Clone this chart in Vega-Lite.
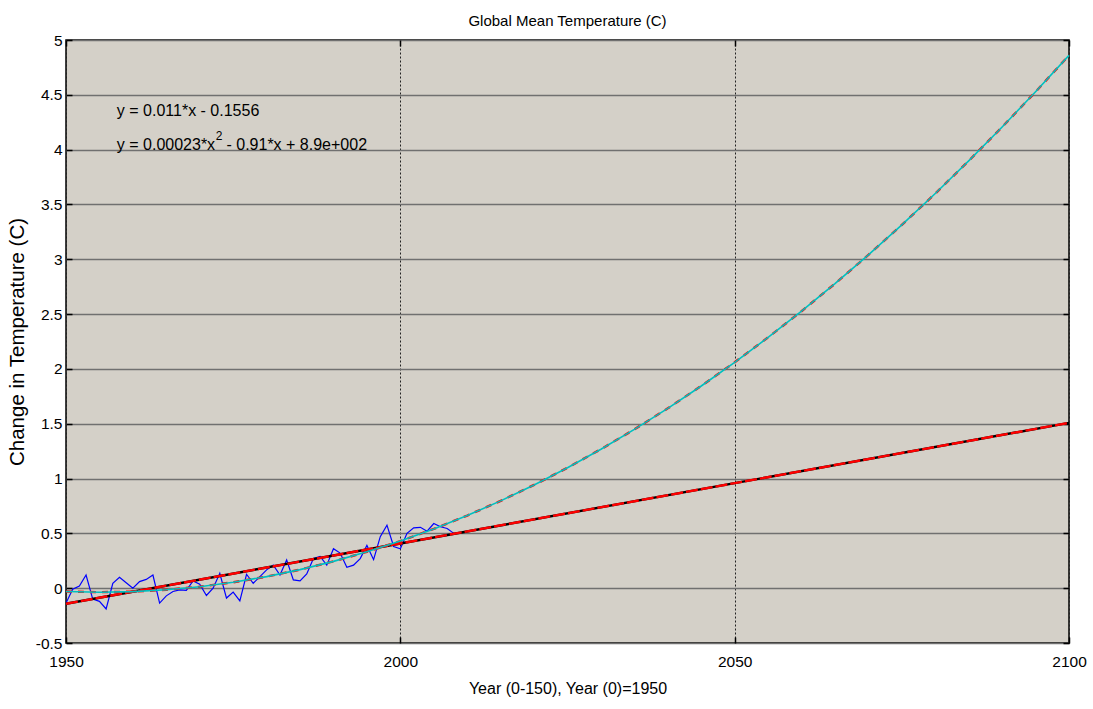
{
  "$schema": "https://vega.github.io/schema/vega-lite/v6.json",
  "width": 1003,
  "height": 603,
  "autosize": {"type": "none"},
  "padding": {"left": 66, "top": 40, "right": 24, "bottom": 66},
  "background": "white",
  "title": {"text": "Global Mean Temperature (C)", "font": "Liberation Sans", "fontSize": 15, "fontWeight": "normal", "color": "black", "offset": 4},
  "config": {
    "view": {"fill": "#d4d0c8", "stroke": "black", "strokeWidth": 1.5},
    "axis": {
      "labelFont": "Liberation Sans", "labelFontSize": 15.5, "labelColor": "black", "labelFlush": false,
      "titleFont": "Liberation Sans", "titleFontSize": 16, "titleFontWeight": "normal", "titleColor": "black",
      "domain": false, "tickColor": "black", "tickSize": -6, "tickWidth": 1.5
    }
  },
  "datasets": {
    "obs": [
      {"year": 1950, "temp": -0.136}, {"year": 1951, "temp": -0.01}, {"year": 1952, "temp": 0.02}, {"year": 1953, "temp": 0.12},
      {"year": 1954, "temp": -0.10}, {"year": 1955, "temp": -0.12}, {"year": 1956, "temp": -0.19}, {"year": 1957, "temp": 0.045},
      {"year": 1958, "temp": 0.10}, {"year": 1959, "temp": 0.05}, {"year": 1960, "temp": 0.0}, {"year": 1961, "temp": 0.06},
      {"year": 1962, "temp": 0.08}, {"year": 1963, "temp": 0.12}, {"year": 1964, "temp": -0.136}, {"year": 1965, "temp": -0.07},
      {"year": 1966, "temp": -0.03}, {"year": 1967, "temp": -0.015}, {"year": 1968, "temp": -0.02}, {"year": 1969, "temp": 0.066},
      {"year": 1970, "temp": 0.036}, {"year": 1971, "temp": -0.067}, {"year": 1972, "temp": 0.0}, {"year": 1973, "temp": 0.136},
      {"year": 1974, "temp": -0.09}, {"year": 1975, "temp": -0.036}, {"year": 1976, "temp": -0.115}, {"year": 1977, "temp": 0.127},
      {"year": 1978, "temp": 0.045}, {"year": 1979, "temp": 0.106}, {"year": 1980, "temp": 0.167}, {"year": 1981, "temp": 0.21},
      {"year": 1982, "temp": 0.12}, {"year": 1983, "temp": 0.257}, {"year": 1984, "temp": 0.076}, {"year": 1985, "temp": 0.066},
      {"year": 1986, "temp": 0.13}, {"year": 1987, "temp": 0.27}, {"year": 1988, "temp": 0.29}, {"year": 1989, "temp": 0.21},
      {"year": 1990, "temp": 0.36}, {"year": 1991, "temp": 0.32}, {"year": 1992, "temp": 0.19}, {"year": 1993, "temp": 0.21},
      {"year": 1994, "temp": 0.27}, {"year": 1995, "temp": 0.39}, {"year": 1996, "temp": 0.26}, {"year": 1997, "temp": 0.47},
      {"year": 1998, "temp": 0.575}, {"year": 1999, "temp": 0.38}, {"year": 2000, "temp": 0.36}, {"year": 2001, "temp": 0.50},
      {"year": 2002, "temp": 0.55}, {"year": 2003, "temp": 0.555}, {"year": 2004, "temp": 0.52}, {"year": 2005, "temp": 0.59},
      {"year": 2006, "temp": 0.56}, {"year": 2007, "temp": 0.545}, {"year": 2008, "temp": 0.50}
    ],
    "linear": [
      {"year": 1950, "temp": -0.142}, {"year": 2000, "temp": 0.408}, {"year": 2050, "temp": 0.958}, {"year": 2100, "temp": 1.508}
    ],
    "quad": [
      {"year": 1950, "temp": -0.03}, {"year": 1955, "temp": -0.0367}, {"year": 1960, "temp": -0.0316}, {"year": 1965, "temp": -0.0149},
      {"year": 1970, "temp": 0.0136}, {"year": 1975, "temp": 0.0538}, {"year": 1980, "temp": 0.1056}, {"year": 1985, "temp": 0.1692},
      {"year": 1990, "temp": 0.2444}, {"year": 1995, "temp": 0.3314}, {"year": 2000, "temp": 0.43}, {"year": 2005, "temp": 0.5404},
      {"year": 2010, "temp": 0.6624}, {"year": 2015, "temp": 0.7962}, {"year": 2020, "temp": 0.9416}, {"year": 2025, "temp": 1.0988},
      {"year": 2030, "temp": 1.2676}, {"year": 2035, "temp": 1.4482}, {"year": 2040, "temp": 1.6404}, {"year": 2045, "temp": 1.8444},
      {"year": 2050, "temp": 2.06}, {"year": 2055, "temp": 2.2874}, {"year": 2060, "temp": 2.5264}, {"year": 2065, "temp": 2.7772},
      {"year": 2070, "temp": 3.0396}, {"year": 2075, "temp": 3.3138}, {"year": 2080, "temp": 3.5996}, {"year": 2085, "temp": 3.8972},
      {"year": 2090, "temp": 4.2064}, {"year": 2095, "temp": 4.5274}, {"year": 2100, "temp": 4.86}
    ]
  },
  "resolve": {"axis": {"x": "independent", "y": "independent"}},
  "layer": [
    {
      "data": {"name": "obs"},
      "mark": {"type": "line", "color": "#0000ff", "strokeWidth": 1.2, "clip": true},
      "encoding": {
        "x": {"field": "year", "type": "quantitative", "scale": {"domain": [1950, 2100], "nice": false, "zero": false},
          "axis": {"values": [1950, 2000, 2050, 2100], "format": "d", "labelPadding": 17, "grid": true, "gridColor": "#222222", "gridDash": [2, 2], "gridWidth": 1,
            "title": "Year (0-150), Year (0)=1950", "titlePadding": 11}},
        "y": {"field": "temp", "type": "quantitative", "scale": {"domain": [-0.5, 5], "nice": false, "zero": false},
          "axis": {"values": [-0.5, 0, 0.5, 1, 1.5, 2, 2.5, 3, 3.5, 4, 4.5, 5], "labelExpr": "'' + datum.value", "labelPadding": 10,
            "grid": true, "gridColor": "#707070", "gridWidth": 1.6,
            "title": "Change in Temperature (C)", "titleFontSize": 20.5, "titlePadding": 8}}
      }
    },
    {
      "data": {"name": "linear"},
      "mark": {"type": "line", "color": "black", "strokeWidth": 2.4},
      "encoding": {
        "x": {"field": "year", "type": "quantitative",
          "axis": {"orient": "top", "values": [1950, 2000, 2050, 2100], "labels": false, "title": null, "grid": false}},
        "y": {"field": "temp", "type": "quantitative",
          "axis": {"orient": "right", "values": [-0.5, 0, 0.5, 1, 1.5, 2, 2.5, 3, 3.5, 4, 4.5, 5], "labels": false, "title": null, "grid": false}}
      }
    },
    {
      "data": {"name": "linear"},
      "mark": {"type": "line", "color": "#ff0000", "strokeWidth": 2.4, "strokeDash": [12, 3]},
      "encoding": {
        "x": {"field": "year", "type": "quantitative", "axis": null},
        "y": {"field": "temp", "type": "quantitative", "axis": null}
      }
    },
    {
      "data": {"name": "quad"},
      "mark": {"type": "line", "color": "#ff0000", "strokeWidth": 2.4, "strokeDash": [6, 6]},
      "encoding": {
        "x": {"field": "year", "type": "quantitative", "axis": null},
        "y": {"field": "temp", "type": "quantitative", "axis": null}
      }
    },
    {
      "data": {"name": "quad"},
      "mark": {"type": "line", "color": "#00bfbf", "strokeWidth": 1.6},
      "encoding": {
        "x": {"field": "year", "type": "quantitative", "axis": null},
        "y": {"field": "temp", "type": "quantitative", "axis": null}
      }
    },
    {
      "data": {"values": [{}]},
      "mark": {"type": "text", "align": "left", "baseline": "middle", "font": "Liberation Sans", "fontSize": 16, "color": "black"},
      "encoding": {
        "x": {"datum": 1957.6, "type": "quantitative", "axis": null},
        "y": {"datum": 4.35, "type": "quantitative", "axis": null},
        "text": {"value": "y = 0.011*x - 0.1556"}
      }
    },
    {
      "data": {"values": [{}]},
      "mark": {"type": "text", "align": "left", "baseline": "middle", "font": "Liberation Sans", "fontSize": 16, "color": "black"},
      "encoding": {
        "x": {"datum": 1957.6, "type": "quantitative", "axis": null},
        "y": {"datum": 4.04, "type": "quantitative", "axis": null},
        "text": {"value": "y = 0.00023*x"}
      }
    },
    {
      "data": {"values": [{}]},
      "mark": {"type": "text", "align": "left", "baseline": "middle", "font": "Liberation Sans", "fontSize": 12, "color": "black"},
      "encoding": {
        "x": {"datum": 1972.4, "type": "quantitative", "axis": null},
        "y": {"datum": 4.12, "type": "quantitative", "axis": null},
        "text": {"value": "2"}
      }
    },
    {
      "data": {"values": [{}]},
      "mark": {"type": "text", "align": "left", "baseline": "middle", "font": "Liberation Sans", "fontSize": 16, "color": "black"},
      "encoding": {
        "x": {"datum": 1974.0, "type": "quantitative", "axis": null},
        "y": {"datum": 4.04, "type": "quantitative", "axis": null},
        "text": {"value": "- 0.91*x + 8.9e+002"}
      }
    }
  ]
}
